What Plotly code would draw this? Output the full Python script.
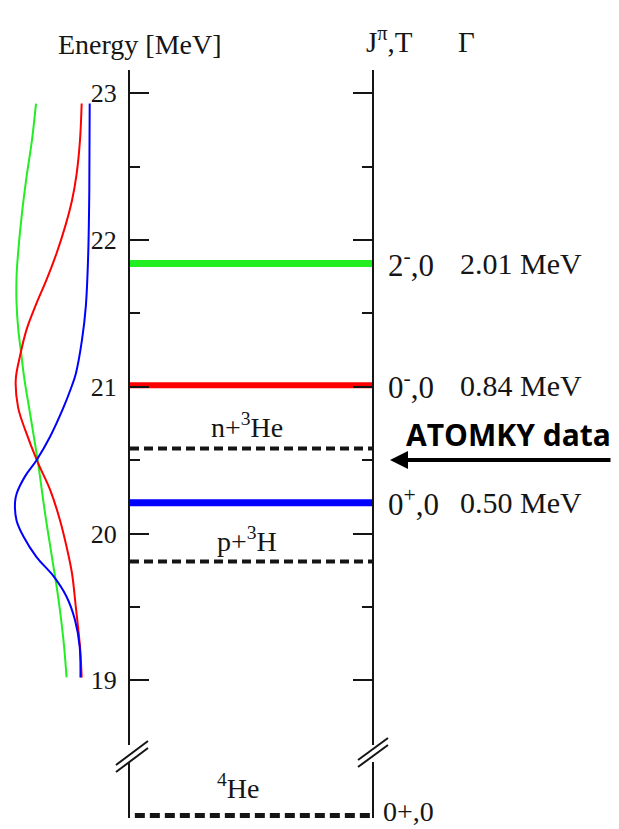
import plotly.graph_objects as go

# ---------------- data ----------------
energy_ticks = [19, 20, 21, 22, 23]
energy_minor_ticks = [19.5, 20.5, 21.5, 22.5]
ground_ticks = [0]

level_E = [21.84, 21.01, 20.21]
level_jpi = ["2<sup>-</sup>,0", "0<sup>-</sup>,0", "0<sup>+</sup>,0"]
level_gamma = ["2.01 MeV", "0.84 MeV", "0.50 MeV"]

threshold_E = [20.58, 19.81]
threshold_labels = ["n+<sup>3</sup>He", "p+<sup>3</sup>H"]

ground_E = [0.0]
ground_label = "<sup>4</sup>He"
ground_jpi = "0+,0"

# sideways resonance profiles (relative intensity vs energy)
green_E = [22.93, 22.68, 22.43, 22.18, 21.93, 21.75, 21.57, 21.39, 21.23, 21.06,
           20.82, 20.48, 20.14, 19.84, 19.57, 19.27, 19.02]
green_I = [0.727, 0.78, 0.85, 0.91, 0.957, 0.98, 0.98, 0.957, 0.92, 0.88,
           0.805, 0.70, 0.61, 0.52, 0.44, 0.37, 0.33]

red_E = [22.93, 22.68, 22.45, 22.27, 22.09, 21.91, 21.73, 21.57, 21.39, 21.21,
         21.05, 20.86, 20.71, 20.48, 20.30, 20.09, 19.91, 19.73, 19.50, 19.23, 19.02]
red_I = [0.134, 0.156, 0.20, 0.26, 0.35, 0.46, 0.59, 0.72, 0.85, 0.935,
         0.99, 0.96, 0.87, 0.70, 0.545, 0.415, 0.33, 0.26, 0.21, 0.156, 0.134]

blue_E = [22.93, 22.34, 21.89, 21.55, 21.32, 21.09, 20.98, 20.86, 20.66, 20.50,
          20.39, 20.27, 20.21, 20.09, 19.98, 19.84, 19.71, 19.57, 19.41, 19.23, 19.02]
blue_I = [0.03, 0.035, 0.05, 0.08, 0.13, 0.21, 0.28, 0.37, 0.545, 0.72,
          0.87, 0.98, 1.0, 0.98, 0.89, 0.72, 0.50, 0.33, 0.22, 0.16, 0.15]

# ---------------- styles ----------------
W, H = 619, 829
def PX(x):
    return x / W
def PY(y):
    return 1 - y / H

SERIF = "Liberation Serif"
INK = "#151515"
level_colors = ["#22ee22", "#ff0000", "#0000ff"]
level_widths = [7, 6, 7]

fig = go.Figure()

# resonance profiles on the left
for E, I, c in [(green_E, green_I, level_colors[0]),
                (red_E, red_I, level_colors[1]),
                (blue_E, blue_I, level_colors[2])]:
    fig.add_trace(go.Scatter(x=I, y=E, mode="lines", xaxis="x2", yaxis="y",
                             line=dict(color=c, width=2, shape="spline", smoothing=1.0),
                             hoverinfo="skip", showlegend=False))

# resonance levels
for E, c, w in zip(level_E, level_colors, level_widths):
    fig.add_trace(go.Scatter(x=[0, 1], y=[E, E], mode="lines", xaxis="x", yaxis="y",
                             line=dict(color=c, width=w), showlegend=False, hoverinfo="skip"))

# thresholds
for E in threshold_E:
    fig.add_trace(go.Scatter(x=[0, 1], y=[E, E], mode="lines", xaxis="x", yaxis="y",
                             line=dict(color=INK, width=4, dash="9px,5px"),
                             showlegend=False, hoverinfo="skip"))

# ground state
for E in ground_E:
    fig.add_trace(go.Scatter(x=[0.02, 1], y=[E, E], mode="lines", xaxis="x", yaxis="y2",
                             line=dict(color=INK, width=6, dash="10px,5px"),
                             showlegend=False, hoverinfo="skip", cliponaxis=False))

annotations = []
# right-side labels
for E, j, g in zip(level_E, level_jpi, level_gamma):
    annotations.append(dict(x=PX(386), xref="paper", y=E, yref="y", text=j,
                            xanchor="left", yanchor="middle", showarrow=False,
                            font=dict(family=SERIF, size=31, color=INK)))
    annotations.append(dict(x=PX(458), xref="paper", y=E, yref="y", text=g,
                            xanchor="left", yanchor="middle", showarrow=False,
                            font=dict(family=SERIF, size=30, color=INK)))
for E, t in zip(threshold_E, threshold_labels):
    annotations.append(dict(x=PX(247), xref="paper", y=E, yref="y", text=t,
                            xanchor="center", yanchor="bottom", yshift=3, showarrow=False,
                            font=dict(family=SERIF, size=28, color=INK)))
annotations.append(dict(x=PX(238), xref="paper", y=ground_E[0], yref="y2", text=ground_label,
                        xanchor="center", yanchor="bottom", yshift=10, showarrow=False,
                        font=dict(family=SERIF, size=28, color=INK)))
annotations.append(dict(x=PX(381), xref="paper", y=ground_E[0], yref="y2", text=ground_jpi,
                        xanchor="left", yanchor="middle", yshift=5, showarrow=False,
                        font=dict(family=SERIF, size=28, color=INK)))
# headers
annotations.append(dict(x=PX(140), xref="paper", y=PY(44), yref="paper", text="Energy [MeV]",
                        xanchor="center", yanchor="middle", showarrow=False,
                        font=dict(family=SERIF, size=28, color=INK)))
annotations.append(dict(x=PX(364), xref="paper", y=PY(40), yref="paper", text="J<sup>π</sup>,T",
                        xanchor="left", yanchor="middle", showarrow=False,
                        font=dict(family=SERIF, size=29, color=INK)))
annotations.append(dict(x=PX(456), xref="paper", y=PY(42), yref="paper", text="Γ",
                        xanchor="left", yanchor="middle", showarrow=False,
                        font=dict(family=SERIF, size=29, color=INK)))
# ATOMKY note + arrow
annotations.append(dict(x=PX(404), xref="paper", y=PY(434), yref="paper", text="<b>ATOMKY data</b>",
                        xanchor="left", yanchor="middle", showarrow=False,
                        font=dict(family="Open Sans", size=30, color="#000000")))
annotations.append(dict(x=PX(390), xref="paper", y=PY(460), yref="paper", text="",
                        showarrow=True, ax=222, ay=0, axref="pixel", ayref="pixel",
                        arrowhead=2, arrowsize=0.9, arrowwidth=4, arrowcolor="#000000",
                        standoff=0))

# axis-break marks
shapes = []
for (x0, y0, x1, y1) in [(116, 765, 148, 741), (116, 772, 148, 748),
                         (358, 760, 388, 738), (358, 767, 388, 745)]:
    shapes.append(dict(type="line", xref="paper", yref="paper",
                       x0=PX(x0), y0=PY(y0), x1=PX(x1), y1=PY(y1),
                       line=dict(color=INK, width=2)))

scale = 146.77  # px per MeV
fig.update_layout(
    width=W, height=H, margin=dict(l=0, r=0, t=0, b=0),
    paper_bgcolor="white", plot_bgcolor="rgba(0,0,0,0)",
    showlegend=False,
    xaxis=dict(domain=[PX(130), PX(372)], range=[0, 1], visible=False, anchor="y"),
    xaxis2=dict(domain=[0, PX(128)], range=[(92 - 0) / 77, (92 - 128) / 77],
                visible=False, anchor="y"),
    yaxis=dict(domain=[PY(745), PY(70)], range=[23 - (745 - 93.3) / scale, 23 + (93.3 - 70) / scale],
               anchor="x", showline=True, linecolor=INK, linewidth=2, mirror="ticks",
               ticks="inside", ticklen=19, tickwidth=2, tickcolor=INK,
               tickmode="array", tickvals=energy_ticks, ticktext=[str(v) for v in energy_ticks],
               minor=dict(tickmode="array", tickvals=energy_minor_ticks, ticks="inside",
                          ticklen=10, tickwidth=2, tickcolor=INK, showgrid=False),
               tickfont=dict(family=SERIF, size=26, color=INK), ticklabelstandoff=6,
               showgrid=False, zeroline=False),
    yaxis2=dict(domain=[PY(818), PY(762)], range=[-2 / scale, 54 / scale],
                anchor="x", showline=True, linecolor=INK, linewidth=2, mirror=True,
                ticks="", tickmode="array", tickvals=ground_ticks,
                ticktext=[str(v) for v in ground_ticks],
                tickfont=dict(family=SERIF, size=26, color=INK), ticklabelstandoff=14,
                showgrid=False, zeroline=False),
    annotations=annotations, shapes=shapes,
)

fig.write_html("out.html")
